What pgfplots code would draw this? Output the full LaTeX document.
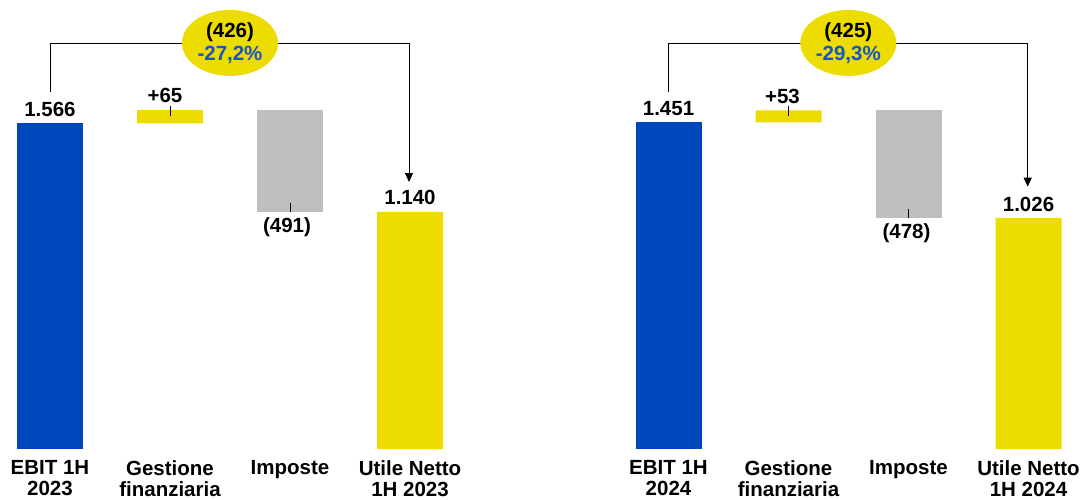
\documentclass[border=0pt]{standalone}
\usepackage{pgfplots}
\pgfplotsset{compat=1.18}
\usepackage{fontspec}
\setmainfont{Liberation Sans}
\usetikzlibrary{shapes.geometric,arrows.meta}
\definecolor{eblue}{RGB}{0,71,187}
\definecolor{eyel}{RGB}{237,220,0}
\definecolor{egray}{RGB}{191,191,191}
\definecolor{pblue}{RGB}{20,85,200}
\newcommand{\lbl}{\fontsize{20.5}{21}\selectfont\bfseries}
\pgfplotsset{wf/.style={
  scale only axis, width=480pt, xmin=-0.5, xmax=3.5, ymin=0, ymax=2000,
  ybar stacked, bar width=66pt, axis line style={draw=none}, major tick length=0pt,
  ytick=\empty, xtick={0,1,2,3},
  xticklabel style={align=center, font=\lbl, inner sep=0pt, yshift=-11pt, anchor=north},
  clip=false, anchor=south west,
}}
\begin{document}
\begin{tikzpicture}
\useasboundingbox (0,0) rectangle (1081pt,499pt);
% left panel
\begin{axis}[wf, at={(-10pt,50pt)}, height=415.96pt,
  xticklabels={{EBIT 1H\\2023},{Gestione\\finanziaria},{Imposte},{Utile Netto\\1H 2023}}]
\addplot[fill=none, draw=none, forget plot] coordinates {(0,0)(1,1566)(2,1140)(3,0)};
\addplot[fill=eblue, draw=none] coordinates {(0,1566)(1,0)(2,0)(3,0)};
\addplot[fill=eyel, draw=none] coordinates {(0,0)(1,65)(2,0)(3,1140)};
\addplot[fill=egray, draw=none] coordinates {(0,0)(1,0)(2,491)(3,0)};
\node[font=\lbl, yshift=14pt] at (axis cs:0,1566) {1.566};
\node[font=\lbl, yshift=14pt, xshift=-5pt] at (axis cs:1,1631) {+65};
\coordinate (La) at (axis cs:1,1631);
\node[font=\lbl, yshift=-15pt, xshift=-3pt] at (axis cs:2,1140) {(491)};
\coordinate (Lb) at (axis cs:2,1140);
\node[font=\lbl, yshift=14pt] at (axis cs:3,1140) {1.140};
\end{axis}
% right panel
\begin{axis}[wf, at={(608.5pt,50pt)}, height=450.3pt,
  xticklabels={{EBIT 1H\\2024},{Gestione\\finanziaria},{Imposte},{Utile Netto\\1H 2024}}]
\addplot[fill=none, draw=none, forget plot] coordinates {(0,0)(1,1451)(2,1026)(3,0)};
\addplot[fill=eblue, draw=none] coordinates {(0,1451)(1,0)(2,0)(3,0)};
\addplot[fill=eyel, draw=none] coordinates {(0,0)(1,53)(2,0)(3,1026)};
\addplot[fill=egray, draw=none] coordinates {(0,0)(1,0)(2,478)(3,0)};
\node[font=\lbl, yshift=14pt] at (axis cs:0,1451) {1.451};
\node[font=\lbl, yshift=14pt, xshift=-6pt] at (axis cs:1,1504) {+53};
\coordinate (Ra) at (axis cs:1,1504);
\node[font=\lbl, yshift=-15pt, xshift=-2pt] at (axis cs:2,1026) {(478)};
\coordinate (Rb) at (axis cs:2,1026);
\node[font=\lbl, yshift=14pt] at (axis cs:3,1026) {1.026};
\end{axis}
% leader lines
\draw[line width=0.6pt] ([yshift=4pt]La) -- ([yshift=-6pt]La);
\draw[line width=0.6pt] (Lb) -- ([yshift=9pt]Lb);
\draw[line width=0.6pt] ([yshift=4pt]Ra) -- ([yshift=-6pt]Ra);
\draw[line width=0.6pt] (Rb) -- ([yshift=9pt]Rb);
% connectors
\draw[line width=0.9pt, -{Triangle[length=9pt,width=8pt]}] (50pt,407pt) -- (50pt,456pt) -- (409pt,456pt) -- (409pt,317pt);
\node[ellipse, fill=eyel, minimum width=96pt, minimum height=66pt, inner sep=0pt] at (230pt,456pt) {};
\node[font=\lbl] at (230pt,467pt) {(426)};
\node[font=\lbl, text=pblue] at (230pt,444pt) {-27,2\%};
\draw[line width=0.9pt, -{Triangle[length=9pt,width=8pt]}] (668.7pt,407.3pt) -- (668.7pt,456pt) -- (1027.7pt,456pt) -- (1027.7pt,312.3pt);
\node[ellipse, fill=eyel, minimum width=96pt, minimum height=66pt, inner sep=0pt] at (848.3pt,456pt) {};
\node[font=\lbl] at (848.3pt,467pt) {(425)};
\node[font=\lbl, text=pblue] at (848.3pt,444pt) {-29,3\%};
\end{tikzpicture}
\end{document}
